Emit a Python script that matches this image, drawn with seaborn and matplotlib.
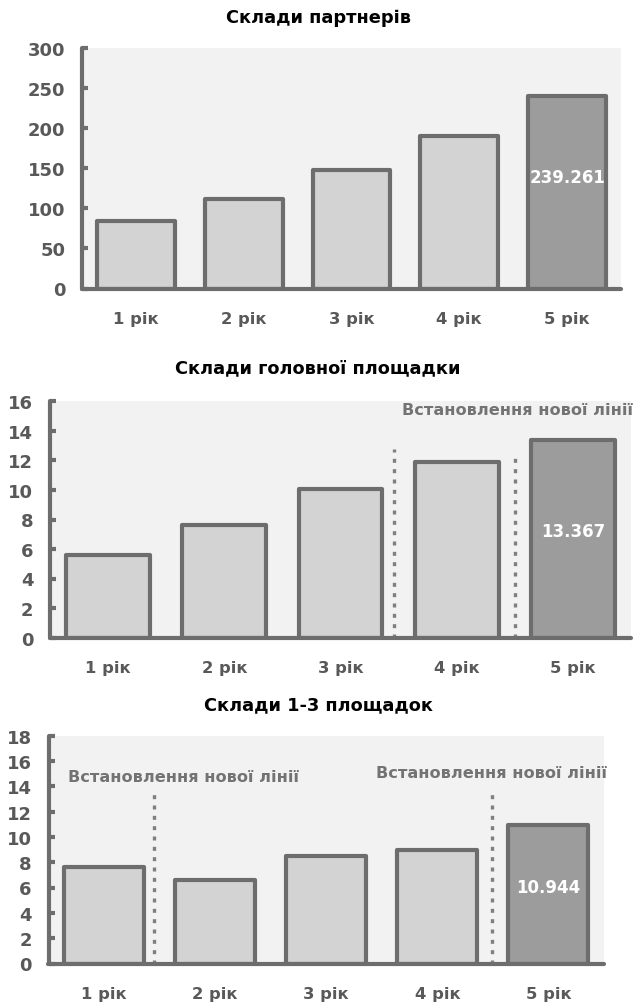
import matplotlib
matplotlib.use("Agg")
import matplotlib.pyplot as plt
import seaborn as sns
import pandas as pd

# ---- data -------------------------------------------------------------
years = ["1 рік", "2 рік", "3 рік", "4 рік", "5 рік"]

titles = ["Склади партнерів", "Склади головної площадки", "Склади 1-3 площадок"]

partners = [84, 112, 147, 190, 239.261]
main_site = [5.6, 7.6, 10.1, 11.9, 13.367]
sites_1_3 = [7.6, 6.6, 8.5, 9.0, 10.944]

y_ticks_partners = [0, 50, 100, 150, 200, 250, 300]
y_ticks_main = [0, 2, 4, 6, 8, 10, 12, 14, 16]
y_ticks_sites = [0, 2, 4, 6, 8, 10, 12, 14, 16, 18]

note = "Встановлення нової лінії"

# ---- style ------------------------------------------------------------
sns.set_theme(style="white")
plt.rcParams["font.family"] = ["DejaVu Sans"]
plt.rcParams["font.weight"] = "bold"

EDGE = "#6d6d6d"
LIGHT = "#d3d3d3"
DARK = "#9c9c9c"
BG = "#f2f2f2"
TICK = "#595959"
NOTE = "#737373"
DOT = "#7f7f7f"

W, H = 636, 1004
fig = plt.figure(figsize=(W / 100, H / 100), dpi=100)
fig.patch.set_facecolor("white")


def px_axes(left, top, right, bottom):
    return fig.add_axes([left / W, 1 - bottom / H, (right - left) / W, (bottom - top) / H])


panels = [
    dict(values=partners, ticks=y_ticks_partners, title=titles[0],
         box=(82, 48.5, 621, 289.5), title_y=18, label_frac=0.58,
         dividers=[], notes=[]),
    dict(values=main_site, ticks=y_ticks_main, title=titles[1],
         box=(50, 402.5, 631, 638.5), title_y=368, label_frac=0.54,
         dividers=[(2.46, 12.8), (3.5, 12.6)],
         notes=[(4.52, 15.45, "right")]),
    dict(values=sites_1_3, ticks=y_ticks_sites, title=titles[2],
         box=(48.5, 736.5, 604, 964.5), title_y=705, label_frac=0.555,
         dividers=[(0.45, 13.4), (3.49, 13.7)],
         notes=[(-0.32, 14.8, "left"), (4.53, 15.1, "right")]),
]

for p in panels:
    ax = px_axes(*p["box"])
    ax.set_facecolor(BG)
    df = pd.DataFrame({"year": years, "value": p["values"]})
    colors = [LIGHT] * (len(years) - 1) + [DARK]
    sns.barplot(data=df, x="year", y="value", hue="year", palette=colors,
                width=0.72, edgecolor=EDGE, linewidth=3, saturation=1,
                legend=False, ax=ax)
    for patch in ax.patches:
        patch.set_joinstyle("round")

    ymax = p["ticks"][-1]
    ax.set_ylim(0, ymax)
    ax.set_xlim(-0.5, len(years) - 0.5)
    ax.set_yticks(p["ticks"])
    ax.set_xlabel("")
    ax.set_ylabel("")

    for side in ("top", "right"):
        ax.spines[side].set_visible(False)
    for side in ("left", "bottom"):
        ax.spines[side].set_color(EDGE)
        ax.spines[side].set_linewidth(3)
        ax.spines[side].set_capstyle("round")
        ax.spines[side].set_zorder(5)

    ax.tick_params(axis="y", direction="in", length=4.5, width=3, color=EDGE,
                   labelsize=13, labelcolor=TICK, pad=12, left=True)
    ax.tick_params(axis="x", length=0, labelsize=11.8, labelcolor=TICK, pad=16)
    for lbl in ax.get_xticklabels() + ax.get_yticklabels():
        lbl.set_fontweight("bold")

    # reference lines marking new production lines
    for xpos, top in p["dividers"]:
        ax.plot([xpos, xpos], [0, top], color=DOT, linewidth=2.4,
                linestyle=(0, (1.2, 1.9)), dash_capstyle="butt", zorder=4)

    for xpos, ypos, ha in p["notes"]:
        ax.text(xpos, ypos, note, ha=ha, va="center", fontsize=11.6,
                fontweight="bold", color=NOTE, clip_on=False)

    # value label on the highlighted last bar
    last = p["values"][-1]
    ax.text(len(years) - 1, last * p["label_frac"], f"{last:g}",
            ha="center", va="center", fontsize=12, fontweight="bold",
            color="white", zorder=6)

    fig.text(0.5, 1 - p["title_y"] / H, p["title"], ha="center", va="center",
             fontsize=12.8, fontweight="bold", color="black")

fig.savefig("out.png", dpi=100, facecolor="white")
